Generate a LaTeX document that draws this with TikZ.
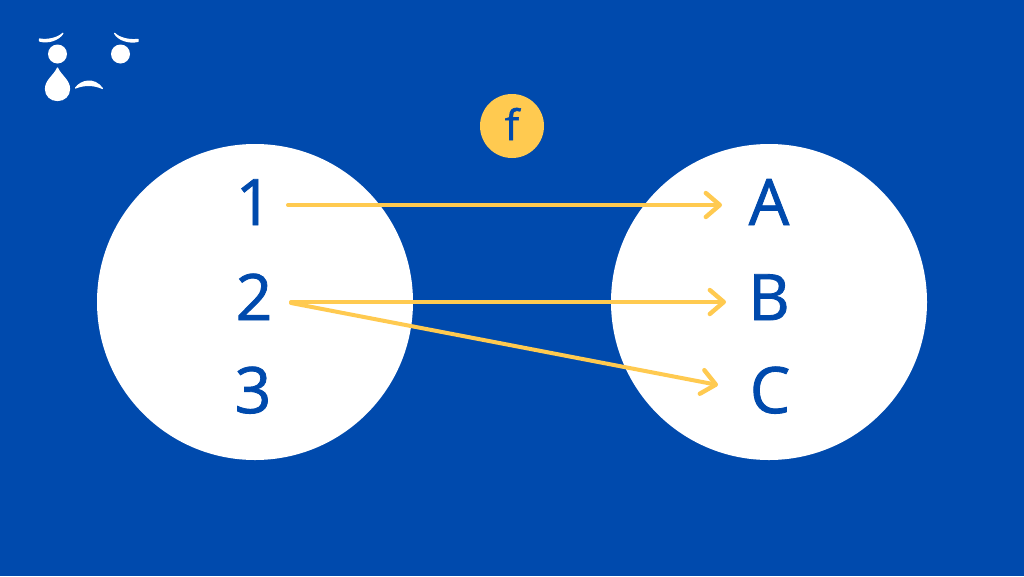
\documentclass[tikz,border=0pt]{standalone}
\usepackage{fontspec}
\usetikzlibrary{arrows.meta}
\setmainfont{Open Sans}
\newfontfamily\labfont[FakeBold=1.3]{Open Sans}
\definecolor{bluebg}{HTML}{004AAD}
\definecolor{amber}{HTML}{FFCA50}
\tikzset{
  disc/.style={circle,fill=white,draw=none,minimum size=316pt,inner sep=0pt},
  lab/.style={text=bluebg,font=\labfont\fontsize{64}{64}\selectfont,anchor=base,inner sep=0pt},
  link/.style={draw=amber,line width=4pt,line cap=round,line join=round,
    -{Straight Barb[length=14pt,width=24pt,line width=4.4pt,round]}},
  faceline/.style={fill=white,draw=white,line width=1.2pt,line join=round}
}
\begin{document}
\begin{tikzpicture}[x=1pt,y=-1pt]
\useasboundingbox (0,0) rectangle (1024,576);
\fill[bluebg] (0,0) rectangle (1024,576);
% face
\node[circle,fill=white,minimum size=19pt,inner sep=0pt] (eyeL) at (57.5,54) {};
\node[circle,fill=white,minimum size=19pt,inner sep=0pt] (eyeR) at (120.5,54) {};
\fill[faceline] (39.5,39) .. controls (48,40.5) and (58,38) .. (63,33.2) .. controls (59,40) and (48,43.5) .. (39.5,41) -- cycle;
\fill[faceline] (138,39.4) .. controls (129,40.5) and (119,38) .. (114.5,33.2) .. controls (118,40) and (129,43.5) .. (138,41.4) -- cycle;
\fill[faceline] (57.5,68) .. controls (61,76) and (69.5,80) .. (69.5,89) .. controls (69.5,96) and (64,100.5) .. (57.5,100.5) .. controls (51,100.5) and (45.5,96) .. (45.5,89) .. controls (45.5,80) and (54,76) .. (57.5,68) -- cycle;
\fill[faceline] (75.5,88) .. controls (81,80.5) and (94,77) .. (102.5,88.5) .. controls (94,84.5) and (84,84.5) .. (75.5,88) -- cycle;
% discs
\node[disc] (setL) at (255,302) {};
\node[disc] (setR) at (769,302) {};
% function label
\node[circle,fill=amber,minimum size=64pt,inner sep=0pt] (fbadge) at (512,126) {};
\node[text=bluebg,font=\labfont\fontsize{42}{42}\selectfont,anchor=base,inner sep=0pt] (flab) at (512,140) {f};
% labels
\node[lab] (n1) at (254,225) {1};
\node[lab] (n2) at (254,320) {2};
\node[lab] (n3) at (253,413) {3};
\node[lab] (nA) at (769,225) {A};
\node[lab] (nB) at (769,320) {B};
\node[lab] (nC) at (770,413) {C};
% connector ends
\coordinate (s1) at (288,205);
\coordinate (s2) at (291,302);
\coordinate (s3) at (291,303);
\coordinate (tA) at (722,205);
\coordinate (tB) at (726,302);
\coordinate (tC) at (718,385);
\draw[link] (s1) -- (tA);
\draw[link] (s2) -- (tB);
\draw[link] (s3) -- (tC);
\end{tikzpicture}
\end{document}
